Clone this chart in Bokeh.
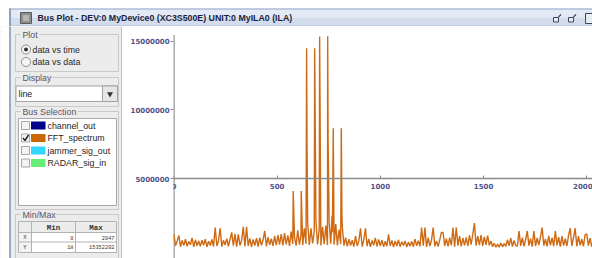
from bokeh.plotting import figure
from bokeh.models import Range1d, FixedTicker, BasicTickFormatter
from bokeh.layouts import column, row
from bokeh.embed import file_html
from bokeh.resources import INLINE
from bokeh.core.properties import value

# ---------------- data ----------------
window_title = "Bus Plot - DEV:0 MyDevice0 (XC3S500E) UNIT:0 MyILA0 (ILA)"
plot_modes = ["data vs time", "data vs data"]
plot_mode_selected = [True, False]
display_mode = "line"
bus_names = ["channel_out", "FFT_spectrum", "jammer_sig_out", "RADAR_sig_in"]
bus_colors = ["#000088", "#cc6600", "#33d6ff", "#66ee77"]
bus_checked = [False, True, False, False]
minmax_rows = ["X", "Y"]
minmax_min = ["0", "18"]
minmax_max = ["2047", "15352202"]

x_ticks = [0, 500, 1000, 1500, 2000]
y_ticks = [5000000, 10000000, 15000000]

# FFT_spectrum: noise floor sampled every 8 bins (values in thousands)
noise_k = [
    950, 120, 480, 870, 60, 520, 150, 610, 90, 440, 200, 700, 40, 560, 130, 470,
    80, 530, 170, 610, 50, 450, 140, 580, 70, 1450, 110, 490, 1400, 60, 520, 180,
    640, 90, 580, 1100, 130, 1000, 60, 950, 150, 520, 1500, 80, 1500, 120, 660, 50,
    590, 140, 680, 70, 720, 160, 540, 1200, 90, 760, 190, 640, 110, 820, 170, 900,
    210, 980, 150, 1050, 230, 880, 120, 1150, 260, 790, 140, 1250, 200, 930, 170, 1400,
    260, 1800, 180, 1400, 300, 1200, 1950, 220, 1300, 150, 1500, 240, 1600, 190, 1850, 280,
    1100, 200, 1700, 160, 1300, 250, 1450, 130, 720, 90, 610, 140, 530, 60, 820, 110,
    480, 1400, 70, 560, 1400, 100, 620, 50, 510, 160, 700, 80, 590, 130, 540, 60,
    450, 90, 950, 120, 510, 40, 470, 110, 560, 70, 420, 150, 480, 30, 390, 100,
    430, 60, 610, 120, 500, 80, 1450, 140, 1450, 50, 720, 110, 540, 1450, 90, 480,
    70, 560, 1100, 1100, 120, 650, 90, 720, 150, 1450, 60, 1450, 130, 830, 80, 690,
    160, 740, 120, 880, 210, 950, 1770, 140, 820, 180, 900, 110, 780, 200, 860, 150,
    470, 60, 310, 20, 250, 18, 330, 50, 280, 90, 560, 130, 680, 70, 510, 160,
    90, 1200, 120, 720, 80, 580, 1200, 140, 650, 60, 1200, 110, 690, 170, 770, 1450,
    130, 620, 90, 850, 160, 710, 100, 1200, 150, 760, 70, 820, 140, 640, 110, 880,
    1400, 120, 720, 1400, 90, 830, 160, 610, 80, 920, 1000, 130, 680, 60, 590, 110,
]
noise_bins = list(range(0, 8 * len(noise_k), 8))

# strong spectral lines
peak_bins = [578, 617, 643, 645, 682, 706, 745, 747, 766, 772, 811, 814]
peak_vals = [4100000, 4100000, 14480000, 7300000, 14480000, 15330000,
             15352202, 7800000, 2300000, 8670000, 8670000, 2250000]

pts = sorted(list(zip(noise_bins, [v * 1000 for v in noise_k])) +
             list(zip(peak_bins, peak_vals)))
spec_x = [p[0] for p in pts]
spec_y = [p[1] for p in pts]

# ---------------- helpers ----------------
UI = value("Liberation Sans")
MONO = value("Liberation Mono")


def gui_fig(w, h, x0, x1, y0, y1, bg):
    f = figure(width=w, height=h, x_range=Range1d(x0, x1), y_range=Range1d(y1, y0),
               output_backend="svg", toolbar_location=None, min_border=0,
               outline_line_color=None, background_fill_color=bg,
               border_fill_color=bg, x_axis_type=None, y_axis_type=None, title=None)
    f.grid.visible = False
    return f


def box(f, l, r, t, b, fill, line=None, lw=1):
    f.quad(left=[l], right=[r], top=[t], bottom=[b], fill_color=fill,
           line_color=line, line_width=lw)


def seg(f, x0, y0, x1, y1, color, lw=1):
    f.segment(x0=[x0], y0=[y0], x1=[x1], y1=[y1], line_color=color, line_width=lw)


def txt(f, x, y, s, size, color="#222222", font=UI, align="left", style="normal"):
    f.text(x=[x], y=[y], text=[s], text_font=font, text_font_size=size,
           text_color=color, text_align=align, text_baseline="middle",
           text_font_style=style)


# ---------------- title bar (y 0..26) ----------------
tb = gui_fig(592, 26, 0, 592, 0, 26, "#ffffff")
box(tb, 9, 592, 8, 17, "#e4eaf5")
box(tb, 9, 592, 17, 26, "#d2dcec")
seg(tb, 9, 8.5, 592, 8.5, "#93a5c6", 1)
seg(tb, 9, 25.5, 592, 25.5, "#aebcd4", 1)
seg(tb, 9.5, 8, 9.5, 26, "#7489ad", 1.5)
box(tb, 20, 31, 12, 23, "#8d8d8d", "#5a5a5a")
box(tb, 22.5, 28.5, 14.5, 20.5, "#b5b5b5", None)
txt(tb, 37, 17.5, window_title, "8.8px", "#1b1f3d", style="bold")
for ix in (553, 568):
    box(tb, ix, ix + 5, 17, 21.5, "#e8ecf3", "#3c4660")
    seg(tb, ix + 5, 16.5, ix + 7.5, 14, "#3c4660", 1.2)
box(tb, 585, 595, 13, 23, "#e8ecf3", "#3c4660")

# ---------------- left panel (x 0..122, y 26..258) ----------------
lp = gui_fig(122, 232, 0, 122, 26, 258, "#ececec")
box(lp, 0, 9, 26, 258, "#ffffff")
seg(lp, 9.5, 26, 9.5, 258, "#7f95b8", 1.5)
seg(lp, 121, 26, 121, 258, "#c2c2c2", 1)

GB = "#c9c9c9"


def group(f, title, t, b, tw):
    seg(f, 15, t, 20, t, GB)
    seg(f, 22 + tw, t, 118, t, GB)
    seg(f, 15, t, 15, b, GB)
    seg(f, 118, t, 118, b, GB)
    if b < 258:
        seg(f, 15, b, 118, b, GB)
    txt(f, 22, t, title, "8.8px", "#555566")


group(lp, "Plot", 34, 71, 17)
group(lp, "Display", 77, 106, 30)
group(lp, "Bus Selection", 111, 209, 55)
group(lp, "Min/Max", 214, 270, 33)

# radio buttons
for i, (m, sel) in enumerate(zip(plot_modes, plot_mode_selected)):
    yy = 49 + 12.5 * i
    lp.scatter(x=[25.5], y=[yy], marker="circle", size=9, fill_color="#f7f7f7",
               line_color="#8e8e8e", line_width=1)
    if sel:
        lp.scatter(x=[25.5], y=[yy], marker="circle", size=4, fill_color="#333333",
                   line_color=None)
    txt(lp, 32, yy, m, "8.8px", "#2a2a2a")

# combo box
box(lp, 15.5, 117, 85.5, 101, "#ffffff", "#a3a3a3")
box(lp, 102, 117, 85.5, 101, "#e6e6e6", "#a3a3a3")
lp.scatter(x=[109.5], y=[93.5], marker="inverted_triangle", size=6,
           fill_color="#333333", line_color=None)
txt(lp, 18, 93.5, display_mode, "8.8px", "#222222")

# bus list
box(lp, 18, 116, 118, 205, "#ffffff", "#a8a8a8")
for i, (nm, col, chk) in enumerate(zip(bus_names, bus_colors, bus_checked)):
    yy = 125 + 12.5 * i
    box(lp, 21, 29, yy - 4, yy + 4, "#f2f4f6", "#a0a8b0")
    if chk:
        lp.line(x=[22.5, 24.5, 28], y=[yy, yy + 2.5, yy - 3], line_color="#222222",
                line_width=1.4)
    box(lp, 30.5, 45, yy - 4, yy + 4, col, None)
    txt(lp, 47, yy, nm, "8.8px", "#1e1e1e")

# min/max table
TL = "#b3b3b3"
box(lp, 18, 116, 221, 232, "#ececec", None)
box(lp, 18, 31, 232, 252, "#f3f3f3", None)
box(lp, 31, 116, 232, 252, "#ffffff", None)
for yy in (221, 232, 241.5, 252):
    seg(lp, 18, yy, 116, yy, TL)
for xx in (18, 31, 75, 116):
    seg(lp, xx, 221, xx, 252, TL)
txt(lp, 53, 227, "Min", "7.5px", "#333333", MONO, "center", "bold")
txt(lp, 95.5, 227, "Max", "7.5px", "#333333", MONO, "center", "bold")
for i, (rn, mn, mx) in enumerate(zip(minmax_rows, minmax_min, minmax_max)):
    yy = 237 + 9.8 * i
    txt(lp, 24.5, yy, rn, "5.5px", "#333333", MONO, "center")
    txt(lp, 73, yy, mn, "5.3px", "#333333", MONO, "right")
    txt(lp, 114, yy, mx, "5.3px", "#333333", MONO, "right")

# ---------------- chart (x 122..592, y 26..258) ----------------
Y_LO, Y_HI = -799000, 16061000
ch = figure(width=470, height=232, x_range=Range1d(-2, 2028),
            y_range=Range1d(Y_LO, Y_HI), output_backend="svg",
            toolbar_location=None, min_border_left=51, min_border_top=0,
            min_border_right=0, min_border_bottom=0, outline_line_color=None,
            background_fill_color="#ffffff", border_fill_color="#ffffff", title=None)
ch.grid.visible = False

AX = "#8a8a8a"
LBL = "#52528a"
# vertical axis line from the bottom up to the data maximum
ch.segment(x0=[0], y0=[Y_LO], x1=[0], y1=[max(spec_y) + 100000],
           line_color=AX, line_width=1.5)
ch.line(x=spec_x, y=spec_y, line_color="#cf6a12", line_width=1.4)

xa = ch.xaxis[0]
xa.fixed_location = 5000000
xa.ticker = FixedTicker(ticks=x_ticks)
xa.minor_tick_line_color = None
xa.major_tick_in = 3
xa.major_tick_out = 0
xa.axis_line_color = AX
xa.axis_line_width = 1.5
xa.major_tick_line_color = AX
xa.major_label_standoff = 4
xa.major_label_text_font = "DejaVu Sans"
xa.major_label_text_font_style = "bold"
xa.major_label_text_font_size = "7px"
xa.major_label_text_color = LBL

ya = ch.yaxis[0]
ya.ticker = FixedTicker(ticks=y_ticks)
ya.formatter = BasicTickFormatter(use_scientific=False)
ya.minor_tick_line_color = None
ya.major_tick_in = 0
ya.major_tick_out = 3
ya.axis_line_color = None
ya.major_tick_line_color = AX
ya.major_label_standoff = 1
ya.major_label_text_font = "DejaVu Sans"
ya.major_label_text_font_style = "bold"
ya.major_label_text_font_size = "7px"
ya.major_label_text_color = LBL

layout = column(tb, row(lp, ch, spacing=0), spacing=0)

with open("out.html", "w") as fh:
    fh.write(file_html(layout, INLINE))
